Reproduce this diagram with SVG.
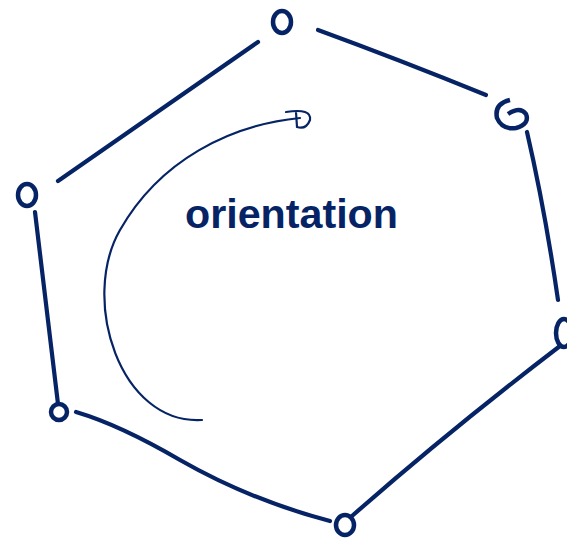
<svg xmlns="http://www.w3.org/2000/svg" width="567" height="543" viewBox="0 0 567 543">
<style>
.n{fill:none;stroke:#062465;stroke-width:4.5;}
.e{fill:none;stroke:#062465;stroke-width:4.2;stroke-linecap:round;}
.a{fill:none;stroke:#062465;stroke-width:2.2;stroke-linecap:round;}
.t{fill:#062465;font-family:"Liberation Sans Narrow","Liberation Sans",sans-serif;font-size:40px;font-weight:bold;}
</style>
<rect width="567" height="543" fill="#ffffff"/>
<g id="connectors">
<path class="e" d="M258 42 L58 181"/>
<path class="e" d="M318 30 Q400 60 486 95"/>
<path class="e" d="M527 132 Q545 210 558 300"/>
<path class="e" d="M560 346 Q450 430 352 516"/>
<path class="e" d="M76 412 Q120 425 180 460 Q250 500 330 521"/>
<path class="e" d="M58 404 L35 212"/>
</g>
<g id="orientation-arrow">
<path class="a" d="M202 420 C120 425 80 300 120 230 C160 160 230 125 300 118"/>
<path class="a" d="M286 112 Q312 108 310 120 Q306 130 297 127 L296 112"/>
</g>
<g id="n1"><ellipse class="n" cx="282" cy="22" rx="9" ry="11"/></g>
<g id="n2"><path class="n" d="M510 100 Q494 104 497 118 Q502 130 516 128 Q530 124 526 114 Q520 106 508 114"/></g>
<g id="n3"><ellipse class="n" cx="564" cy="333" rx="8" ry="14"/></g>
<g id="n4"><ellipse class="n" cx="345" cy="525" rx="9" ry="10"/></g>
<g id="n5"><ellipse class="n" cx="59" cy="412" rx="8" ry="8"/></g>
<g id="n6"><ellipse class="n" cx="27" cy="195" rx="9" ry="11"/></g>
<g id="label"><text class="t" x="185" y="228" textLength="213" lengthAdjust="spacingAndGlyphs">orientation</text></g>
</svg>
